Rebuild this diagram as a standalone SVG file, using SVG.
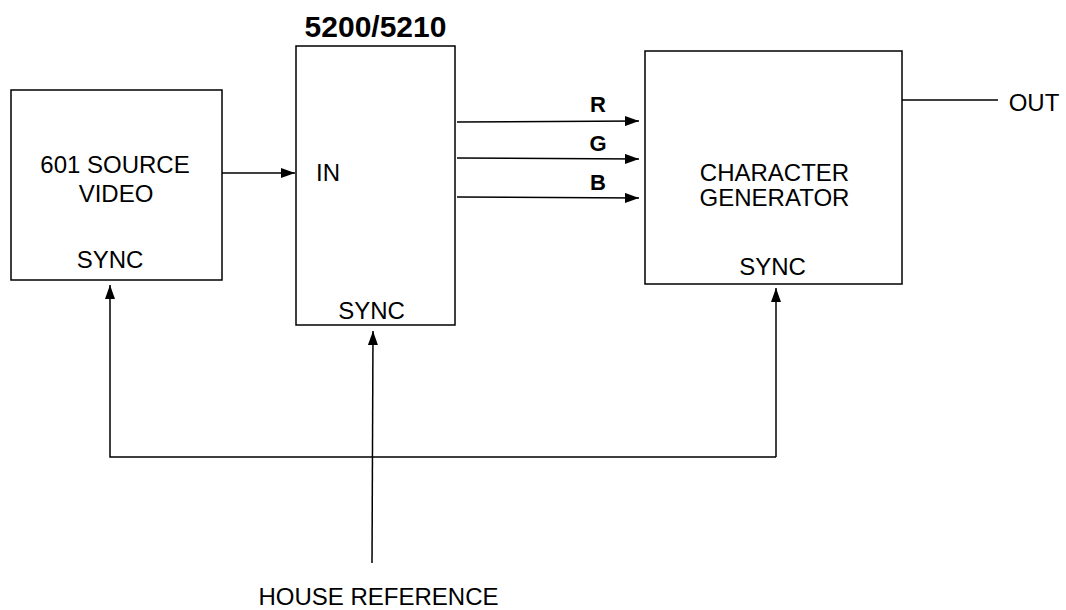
<svg xmlns="http://www.w3.org/2000/svg" width="1066" height="610" viewBox="0 0 1066 610">
<style>
.box{fill:#fff;stroke:#000;stroke-width:1.5}
.t{font-family:"Liberation Sans",Arial,sans-serif;font-size:24px;fill:#000;text-anchor:middle}
.b{font-family:"Liberation Sans",Arial,sans-serif;font-weight:bold;fill:#000;text-anchor:middle}
.w{fill:none;stroke:#000;stroke-width:1.5}
</style>
<defs>
<marker id="ah" markerWidth="14" markerHeight="10" refX="14" refY="5" orient="auto" markerUnits="userSpaceOnUse">
<path d="M0,0 L14,5 L0,10 Z" fill="#000"/>
</marker>
</defs>
<rect width="1066" height="610" fill="#fff"/>
<g id="source">
<rect class="box" x="11" y="90" width="211" height="190"/>
<text class="t" x="115" y="173">601 SOURCE</text>
<text class="t" x="116" y="202">VIDEO</text>
<text class="t" x="110" y="268">SYNC</text>
</g>
<g id="proc">
<text class="b" x="375.5" y="37" font-size="30">5200/5210</text>
<rect class="box" x="296" y="46" width="159" height="279"/>
<text class="t" x="328" y="181">IN</text>
<text class="t" x="371.5" y="319">SYNC</text>
</g>
<g id="chargen">
<rect class="box" x="645" y="51" width="257" height="233"/>
<text class="t" x="774.5" y="181">CHARACTER</text>
<text class="t" x="774.5" y="206">GENERATOR</text>
<text class="t" x="772.5" y="275">SYNC</text>
</g>
<g id="labels">
<text class="b" x="598" y="112" font-size="22">R</text>
<text class="b" x="598" y="151" font-size="22">G</text>
<text class="b" x="598" y="190" font-size="22">B</text>
<text class="t" x="1034" y="111">OUT</text>
<text class="t" x="378.5" y="605">HOUSE REFERENCE</text>
</g>
<g id="connectors">
<line class="w" x1="222" y1="173" x2="295" y2="173" marker-end="url(#ah)"/>
<line class="w" x1="457" y1="122" x2="639" y2="121" marker-end="url(#ah)"/>
<line class="w" x1="457" y1="158" x2="639" y2="159" marker-end="url(#ah)"/>
<line class="w" x1="457" y1="197" x2="639" y2="198" marker-end="url(#ah)"/>
<line class="w" x1="902" y1="100" x2="998" y2="100"/>
<polyline class="w" points="776,457 110,457 110,285" marker-end="url(#ah)"/>
<line class="w" x1="776" y1="457" x2="776" y2="288" marker-end="url(#ah)"/>
<line class="w" x1="372" y1="563" x2="373" y2="331" marker-end="url(#ah)"/>
</g>
</svg>
